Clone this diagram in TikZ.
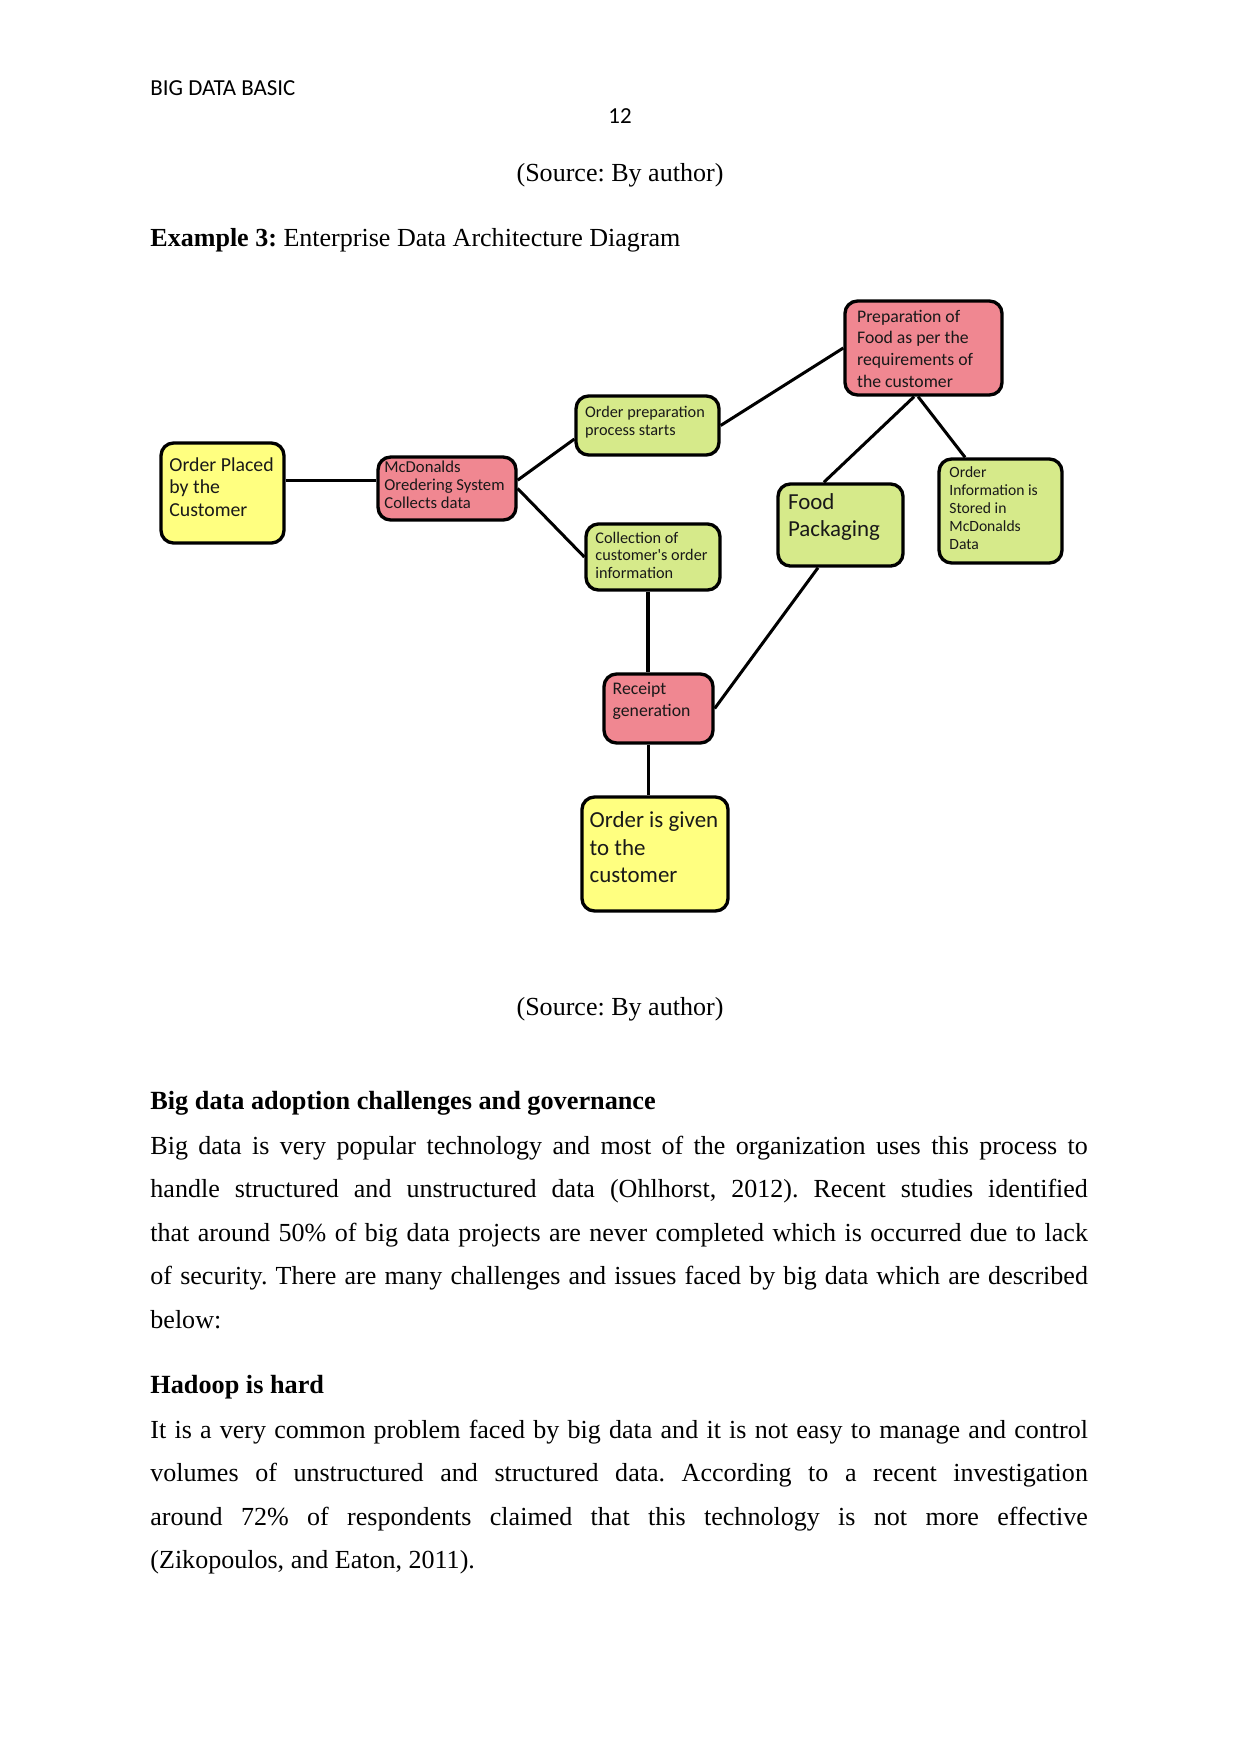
\documentclass[tikz,border=0pt]{standalone}
\usepackage{fontspec}
\setmainfont{Liberation Serif}
\newfontfamily\calfont{Carlito}
\definecolor{boxyellow}{RGB}{255,255,128}
\definecolor{boxgreen}{RGB}{214,234,138}
\definecolor{boxred}{RGB}{240,135,145}
\newcommand{\mltext}[1]{\begin{tabular}[t]{@{}l@{}}#1\end{tabular}}
\frenchspacing
\begin{document}
\begin{tikzpicture}[x=0.48pt,y=-0.48pt,
  box/.style={draw=black, line width=1.6pt, rounded corners=6pt, inner sep=0pt, anchor=center},
  ybox/.style={box, fill=boxyellow},
  gbox/.style={box, fill=boxgreen},
  rbox/.style={box, fill=boxred},
  boxtext/.style={anchor=base west, inner sep=0pt, text=black!90},
  link/.style={draw=black, line width=1.45pt},
  bodyline/.style={anchor=base west, inner sep=0pt, font=\fontsize{12.5}{15}\selectfont},
  headline/.style={anchor=base west, inner sep=0pt, font=\fontsize{12.6}{15}\selectfont\bfseries},
  centerline/.style={anchor=base, inner sep=0pt, font=\fontsize{12.5}{15}\selectfont}]
\useasboundingbox[fill=white] (0,0) rectangle (1241,1754);

% header
\node[anchor=base west, inner sep=0pt, font=\calfont\fontsize{11}{13}\selectfont] (hdr) at (150,95.4) {BIG DATA BASIC};
\node[anchor=base, inner sep=0pt, font=\calfont\fontsize{11}{13}\selectfont] (pgno) at (620,123.8) {12};
\node[centerline] (src1) at (620,181.5) {(Source: By author)};
\node[bodyline] (ex3) at (150,246) {\textbf{Example 3:} Enterprise Data Architecture Diagram};

% boxes
\node[ybox, minimum width=59pt, minimum height=48pt] (placedbox) at (222.5,493) {};
\node[rbox, minimum width=66.2pt, minimum height=30.2pt] (mcdbox) at (447,488.5) {};
\node[gbox, minimum width=68.6pt, minimum height=28.3pt] (prepbox) at (647.5,425.5) {};
\node[rbox, minimum width=75.4pt, minimum height=45.1pt] (foodbox) at (923.5,348) {};
\node[gbox, minimum width=60pt, minimum height=39.4pt] (packbox) at (840.5,525) {};
\node[gbox, minimum width=59pt, minimum height=49.9pt] (infobox) at (1000.5,511) {};
\node[gbox, minimum width=64.3pt, minimum height=31.7pt] (collbox) at (653,557) {};
\node[rbox, minimum width=52.3pt, minimum height=33.1pt] (receiptbox) at (658.5,708.5) {};
\node[ybox, minimum width=70.1pt, minimum height=54.7pt] (givenbox) at (655,854) {};

% box texts
\node[boxtext, font=\calfont\fontsize{9.5}{11}\selectfont] (placedtext) at (169,471) {\mltext{Order Placed\\by the\\Customer}};
\node[boxtext, font=\calfont\fontsize{8}{8.6}\selectfont] (mcdtext) at (384,472.3) {\mltext{McDonalds\\Oredering System\\Collects data}};
\node[boxtext, font=\calfont\fontsize{7.8}{8.8}\selectfont] (preptext) at (584.7,417.2) {\mltext{Order preparation\\process starts}};
\node[boxtext, font=\calfont\fontsize{8.5}{10.4}\selectfont] (foodtext) at (856.7,322) {\mltext{Preparation of\\Food as per the\\requirements of\\the customer}};
\node[boxtext, font=\calfont\fontsize{11}{13.1}\selectfont] (packtext) at (787.7,509.6) {\mltext{Food\\Packaging}};
\node[boxtext, font=\calfont\fontsize{7.5}{8.7}\selectfont] (infotext) at (949,477) {\mltext{Order\\Information is\\Stored in\\McDonalds\\Data}};
\node[boxtext, font=\calfont\fontsize{7.8}{8.5}\selectfont] (colltext) at (595,543.2) {\mltext{Collection of\\customer's order\\information}};
\node[boxtext, font=\calfont\fontsize{8.5}{10.3}\selectfont] (receipttext) at (612.3,694.6) {\mltext{Receipt\\generation}};
\node[boxtext, font=\calfont\fontsize{11}{13.2}\selectfont] (giventext) at (589.3,827.9) {\mltext{Order is given\\to the\\customer}};

% connectors
\draw[link] ([yshift=4pt]mcdbox.west) -- ([yshift=4pt]mcdbox.west -| placedbox.east);
\draw[link] ([yshift=4pt]mcdbox.east) -- ([yshift=-6.5pt]prepbox.west);
\draw[link] (mcdbox.east) -- (collbox.west);
\draw[link] (prepbox.east) -- (foodbox.west);
\draw[link] ([xshift=-4.5pt]foodbox.south) -- ([xshift=-8pt]packbox.north);
\draw[link] ([xshift=-2.6pt]foodbox.south) -- ([xshift=-17pt]infobox.north);
\draw[link] ([xshift=-2.4pt]collbox.south) -- ([xshift=-2.4pt]collbox.south |- receiptbox.north);
\draw[link] ([xshift=-10.8pt]packbox.south) -- (receiptbox.east);
\draw[link] ([xshift=-5pt]receiptbox.south) -- ([xshift=-5pt]receiptbox.south |- givenbox.north);

% caption
\node[centerline] (src2) at (620,1015) {(Source: By author)};

% body text
\node[headline] (h1) at (150,1109) {Big data adoption challenges and governance};
\node[bodyline] (p1) at (150,1154) {\makebox[450pt][s]{Big data is very popular technology and most of the organization uses this process to}};
\node[bodyline] (p2) at (150,1197.6) {\makebox[450pt][s]{handle structured and unstructured data (Ohlhorst, 2012). Recent studies identified}};
\node[bodyline] (p3) at (150,1241.2) {\makebox[450pt][s]{that around 50\% of big data projects are never completed which is occurred due to lack}};
\node[bodyline] (p4) at (150,1284.8) {\makebox[450pt][s]{of security. There are many challenges and issues faced by big data which are described}};
\node[bodyline] (p5) at (150,1328.4) {below:};
\node[headline] (h2) at (150,1393) {Hadoop is hard};
\node[bodyline] (q1) at (150,1438) {\makebox[450pt][s]{It is a very common problem faced by big data and it is not easy to manage and control}};
\node[bodyline] (q2) at (150,1481.6) {\makebox[450pt][s]{volumes of unstructured and structured data. According to a recent investigation}};
\node[bodyline] (q3) at (150,1525.2) {\makebox[450pt][s]{around 72\% of respondents claimed that this technology is not more effective}};
\node[bodyline] (q4) at (150,1568.8) {(Zikopoulos, and Eaton, 2011).};
\end{tikzpicture}
\end{document}
